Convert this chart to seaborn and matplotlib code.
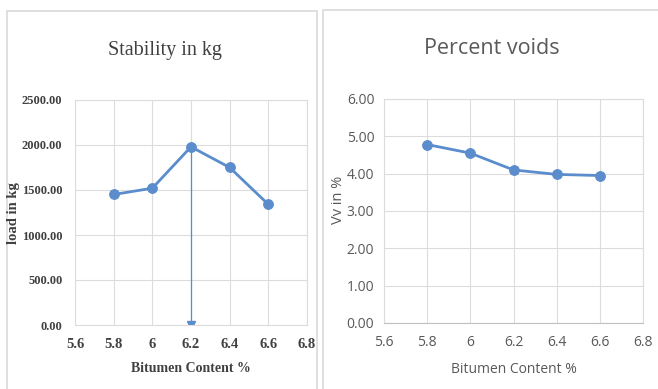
import matplotlib
matplotlib.use("Agg")
import matplotlib.pyplot as plt
import seaborn as sns
import pandas as pd
from matplotlib.patches import Rectangle

sns.set_theme(style="white")

bitumen = [5.8, 6.0, 6.2, 6.4, 6.6]
stability = [1450, 1520, 1980, 1750, 1340]
voids = [4.78, 4.55, 4.10, 3.98, 3.95]
x_ticks = [5.6, 5.8, 6.0, 6.2, 6.4, 6.6, 6.8]
x_tick_labels = ["5.6", "5.8", "6", "6.2", "6.4", "6.6", "6.8"]
stab_ticks = [0, 500, 1000, 1500, 2000, 2500]
void_ticks = [0, 1, 2, 3, 4, 5, 6]
opt_x = [6.2, 6.2]
opt_y = [1980, 0]

W, H = 658, 389
fig = plt.figure(figsize=(W / 100, H / 100), dpi=100)
fig.patch.set_facecolor("white")

# panel borders
fig.patches.append(Rectangle((7 / W, -0.01), (317 - 7) / W, (H - 11) / H + 0.01,
                             transform=fig.transFigure, fill=False,
                             edgecolor="#d9d9d9", lw=1.2))
fig.patches.append(Rectangle((323 / W, -0.01), (W - 323 + 5) / W, (H - 10) / H + 0.01,
                             transform=fig.transFigure, fill=False,
                             edgecolor="#d9d9d9", lw=1.2))

def px_axes(l, r, t, b):
    return fig.add_axes([l / W, (H - b) / H, (r - l) / W, (b - t) / H])

blue = "#5b8ccc"
grid_c = "#dcdcdc"

df = pd.DataFrame({"bitumen": bitumen, "stability": stability, "voids": voids})

# ---------- left ----------
ax1 = px_axes(75, 307, 100, 325)
sns.lineplot(data=df, x="bitumen", y="stability", ax=ax1, color=blue, lw=2,
             marker="o", markersize=7, markeredgecolor=blue)
ax1.plot(opt_x, opt_y, color=blue, lw=0.9)
ax1.plot(opt_x[1:], opt_y[1:], color=blue, marker="v", markersize=6, ls="none")
ax1.set_xlim(5.6, 6.8)
ax1.set_ylim(0, 2500)
ax1.set_xticks(x_ticks)
ax1.set_xticklabels(x_tick_labels)
ax1.set_yticks(stab_ticks)
ax1.set_yticklabels([f"{v:.2f}" for v in stab_ticks])
serif = ["Liberation Serif", "DejaVu Serif"]
for lab in ax1.get_xticklabels():
    lab.set_family(serif)
    lab.set_fontsize(10.5)
    lab.set_color("#404040")
    lab.set_fontweight("bold")
for lab in ax1.get_yticklabels():
    lab.set_family(serif)
    lab.set_fontsize(9)
    lab.set_color("#404040")
    lab.set_fontweight("bold")
ax1.tick_params(axis="x", length=0, pad=9)
ax1.tick_params(axis="y", length=0, pad=9)
ax1.grid(True, color=grid_c, lw=0.8)
for s in ax1.spines.values():
    s.set_color(grid_c)
    s.set_linewidth(0.8)
ax1.set_xlabel("Bitumen Content %", family=serif, fontsize=10, fontweight="bold",
               color="#404040", labelpad=8)
ax1.set_ylabel("")
fig.text(13 / W, 1 - 213 / H, "load in kg", family=serif, fontsize=10.5,
         fontweight="bold", color="#404040", ha="center", va="center", rotation=90)
fig.text(165 / W, 1 - 50 / H, "Stability in kg", family=serif, fontsize=14.5,
         color="#404040", ha="center", va="center")

# ---------- right ----------
ax2 = px_axes(384, 643, 99, 323)
sns.lineplot(data=df, x="bitumen", y="voids", ax=ax2, color=blue, lw=2,
             marker="o", markersize=7, markeredgecolor=blue)
ax2.set_xlim(5.6, 6.8)
ax2.set_ylim(0, 6)
ax2.set_xticks(x_ticks)
ax2.set_xticklabels(x_tick_labels)
ax2.set_yticks(void_ticks)
ax2.set_yticklabels([f"{v:.2f}" for v in void_ticks])
sans = ["Open Sans", "DejaVu Sans"]
for lab in ax2.get_xticklabels() + ax2.get_yticklabels():
    lab.set_family(sans)
    lab.set_fontsize(10)
    lab.set_color("#595959")
ax2.tick_params(axis="x", length=0, pad=9)
ax2.tick_params(axis="y", length=0, pad=7)
ax2.grid(True, color=grid_c, lw=0.8)
for s in ax2.spines.values():
    s.set_color(grid_c)
    s.set_linewidth(0.8)
ax2.spines["bottom"].set_color("#bfbfbf")
ax2.set_xlabel("Bitumen Content %", family=sans, fontsize=10, color="#595959",
               labelpad=8)
ax2.set_ylabel("")
fig.text(339 / W, 1 - 200 / H, "Vv in %", family=sans, fontsize=10.5,
         color="#595959", ha="center", va="center", rotation=90)
fig.text(492 / W, 1 - 48 / H, "Percent voids", family=sans, fontsize=15.5,
         color="#595959", ha="center", va="center")

fig.savefig("out.png", dpi=100)
